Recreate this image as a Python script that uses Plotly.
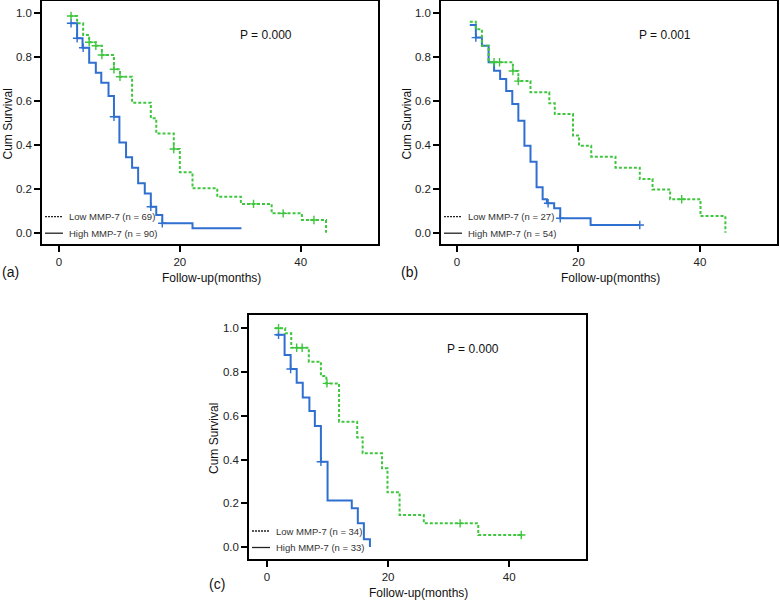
import plotly.graph_objects as go

W, H = 780, 603
FONT = "Arial, Liberation Sans, sans-serif"
BLUE = "#2e6fcf"
GREEN = "#3fc63f"

# ---------------- Data ----------------
# Panel (a)
a_high_t = [1.8, 3.0, 3.9, 5.0, 6.1, 7.0, 8.2, 9.1, 10.0, 11.1, 12.1, 13.1, 14.2, 15.2, 16.1, 17.1, 22.1, 30.2]
a_high_s = [0.953, 0.885, 0.842, 0.774, 0.728, 0.683, 0.622, 0.528, 0.411, 0.343, 0.296, 0.225, 0.179, 0.118, 0.081, 0.043, 0.020, 0.020]
a_high_ct = [2.0, 3.0, 4.0, 9.1, 15.2, 17.1]
a_high_cs = [0.953, 0.885, 0.842, 0.528, 0.118, 0.043]

a_low_t = [1.8, 3.0, 4.0, 5.0, 6.1, 7.1, 9.1, 10.1, 12.1, 15.2, 16.1, 19.0, 20.0, 22.1, 26.2, 30.1, 35.2, 40.2, 44.2]
a_low_s = [0.986, 0.953, 0.900, 0.867, 0.851, 0.809, 0.744, 0.710, 0.592, 0.521, 0.452, 0.381, 0.275, 0.202, 0.164, 0.131, 0.088, 0.058, 0.0]
a_low_ct = [2.0, 5.0, 6.1, 7.1, 9.1, 10.1, 19.0, 32.2, 37.1, 42.2]
a_low_cs = [0.986, 0.867, 0.851, 0.809, 0.744, 0.710, 0.381, 0.131, 0.088, 0.058]

# Panel (b)
b_high_t = [2.1, 3.1, 4.1, 5.2, 6.1, 7.1, 8.1, 9.1, 10.1, 11.1, 12.1, 13.1, 14.1, 14.8, 16.0, 17.0, 22.0, 30.1]
b_high_s = [0.945, 0.888, 0.851, 0.776, 0.737, 0.700, 0.645, 0.586, 0.510, 0.396, 0.323, 0.207, 0.152, 0.134, 0.111, 0.066, 0.035, 0.035]
b_high_ct = [3.1, 15.0, 17.0, 30.1]
b_high_cs = [0.888, 0.134, 0.066, 0.035]

b_low_t = [2.1, 3.1, 4.1, 5.2, 9.2, 10.1, 12.1, 15.2, 16.1, 19.1, 20.1, 22.1, 26.1, 30.1, 32.2, 35.1, 40.1, 44.2]
b_low_s = [0.960, 0.926, 0.851, 0.776, 0.736, 0.690, 0.639, 0.589, 0.540, 0.442, 0.396, 0.346, 0.296, 0.244, 0.197, 0.152, 0.076, 0.0]
b_low_ct = [6.1, 7.0, 9.2, 10.1, 37.0]
b_low_cs = [0.776, 0.776, 0.736, 0.690, 0.152]

# Panel (c)
c_high_t = [1.5, 2.9, 3.9, 4.9, 5.9, 7.0, 7.9, 8.9, 10.0, 14.0, 15.0, 16.0, 17.0]
c_high_s = [0.970, 0.878, 0.814, 0.751, 0.684, 0.622, 0.553, 0.390, 0.212, 0.177, 0.108, 0.035, 0.0]
c_high_ct = [1.9, 3.9, 8.9]
c_high_cs = [0.970, 0.814, 0.390]

c_low_t = [1.3, 3.0, 4.0, 6.9, 8.9, 9.8, 11.9, 14.9, 15.8, 19.0, 19.9, 21.9, 25.9, 34.9, 42.0]
c_low_s = [1.0, 0.977, 0.911, 0.847, 0.782, 0.748, 0.573, 0.501, 0.428, 0.360, 0.250, 0.146, 0.108, 0.055, 0.055]
c_low_ct = [1.9, 4.9, 5.8, 9.9, 31.9, 42.0]
c_low_cs = [1.0, 0.911, 0.911, 0.748, 0.108, 0.055]

x_ticks = [0, 20, 40]
y_ticks = [0.0, 0.2, 0.4, 0.6, 0.8, 1.0]
y_ticktext = ["0.0", "0.2", "0.4", "0.6", "0.8", "1.0"]

p_values = ["P = 0.000", "P = 0.001", "P = 0.000"]
low_labels = ["Low MMP-7 (n = 69)", "Low MMP-7 (n = 27)", "Low MMP-7 (n = 34)"]
high_labels = ["High MMP-7 (n = 90)", "High MMP-7 (n = 54)", "High MMP-7 (n = 33)"]
panel_tags = ["(a)", "(b)", "(c)"]

panels = [
    dict(high=(a_high_t, a_high_s, a_high_ct, a_high_cs), low=(a_low_t, a_low_s, a_low_ct, a_low_cs),
         box=(42, 1, 378, 244), xr=[-2.81, 52.8], yr=[-0.0514, 1.0546], zero_py=232.7, tag_dy=28),
    dict(high=(b_high_t, b_high_s, b_high_ct, b_high_cs), low=(b_low_t, b_low_s, b_low_ct, b_low_cs),
         box=(441, 1, 777, 244), xr=[-2.64, 52.7], yr=[-0.0514, 1.0546], zero_py=232.7, tag_dy=28),
    dict(high=(c_high_t, c_high_s, c_high_ct, c_high_cs), low=(c_low_t, c_low_s, c_low_ct, c_low_cs),
         box=(249, 315, 586, 559), xr=[-2.98, 52.7], yr=[-0.0549, 1.0606], zero_py=547, tag_dy=25),
]


def px(x):
    return x / W


def py(y):
    return 1 - y / H


fig = go.Figure()
annotations = []
shapes = []

for i, p in enumerate(panels):
    sfx = "" if i == 0 else str(i + 1)
    xa, ya = "x" + sfx, "y" + sfx
    l, t, r, b = p["box"]
    for key, color, dash in (("high", BLUE, "solid"), ("low", GREEN, "3px,2px")):
        tt, ss, ct, cs = p[key]
        fig.add_trace(go.Scatter(x=tt, y=ss, mode="lines",
                                 line=dict(color=color, width=2, dash=dash, shape="hv"),
                                 xaxis=xa, yaxis=ya, showlegend=False, hoverinfo="skip"))
        fig.add_trace(go.Scatter(x=ct, y=cs, mode="markers",
                                 marker=dict(symbol="cross-thin", size=6, color=color,
                                             line=dict(color=color, width=1.4)),
                                 xaxis=xa, yaxis=ya, showlegend=False, hoverinfo="skip"))
    axis_common = dict(showline=True, mirror=True, linecolor="black", linewidth=1.5,
                       showgrid=False, zeroline=False, ticks="outside", ticklen=6,
                       tickwidth=1.5, tickcolor="black",
                       tickfont=dict(family=FONT, size=11.5, color="#222"))
    fig.update_layout(**{
        "xaxis" + sfx: dict(domain=[px(l), px(r)], range=p["xr"], tickvals=x_ticks,
                            anchor=ya, **axis_common),
        "yaxis" + sfx: dict(domain=[py(b), py(t)], range=p["yr"], tickvals=y_ticks,
                            ticktext=y_ticktext, anchor=xa, **axis_common),
    })
    zp = p["zero_py"]
    common = dict(xref="paper", yref="paper", showarrow=False, xanchor="center", yanchor="middle")
    annotations += [
        dict(text=p_values[i], x=px(l + 224), y=py(t + 34),
             font=dict(family=FONT, size=12, color="#111"), **common),
        dict(text="Cum Survival", x=px(l - 35), y=py((t + b) / 2 + 2), textangle=-90,
             font=dict(family=FONT, size=12, color="#111"), **common),
        dict(text="Follow-up(months)", x=px(l + 169), y=py(min(b + 34, H - 8)),
             font=dict(family=FONT, size=12, color="#111"), **common),
        dict(text=panel_tags[i], x=px(l - 32), y=py(b + p["tag_dy"]),
             font=dict(family=FONT, size=14, color="#111"), **common),
        dict(text=low_labels[i], x=px(l + 25), y=py(zp - 16), xref="paper", yref="paper",
             xanchor="left", yanchor="middle", showarrow=False,
             font=dict(family=FONT, size=9.5, color="#333")),
        dict(text=high_labels[i], x=px(l + 25), y=py(zp + 0.5), xref="paper", yref="paper",
             xanchor="left", yanchor="middle", showarrow=False,
             font=dict(family=FONT, size=9.5, color="#333")),
    ]
    shapes += [
        dict(type="line", xref="paper", yref="paper", x0=px(l + 3), x1=px(l + 21),
             y0=py(zp - 16), y1=py(zp - 16), line=dict(color="#222", width=1.3, dash="2px,1px")),
        dict(type="line", xref="paper", yref="paper", x0=px(l + 3), x1=px(l + 21),
             y0=py(zp + 0.5), y1=py(zp + 0.5), line=dict(color="#222", width=1.3)),
    ]

fig.update_layout(width=W, height=H, autosize=False,
                  margin=dict(l=0, r=0, t=0, b=0, pad=0),
                  paper_bgcolor="white", plot_bgcolor="white",
                  annotations=annotations, shapes=shapes,
                  font=dict(family=FONT))

fig.write_html("out.html", config={"displayModeBar": False},
               post_script="document.body.style.margin='0';document.body.style.overflow='hidden';")
